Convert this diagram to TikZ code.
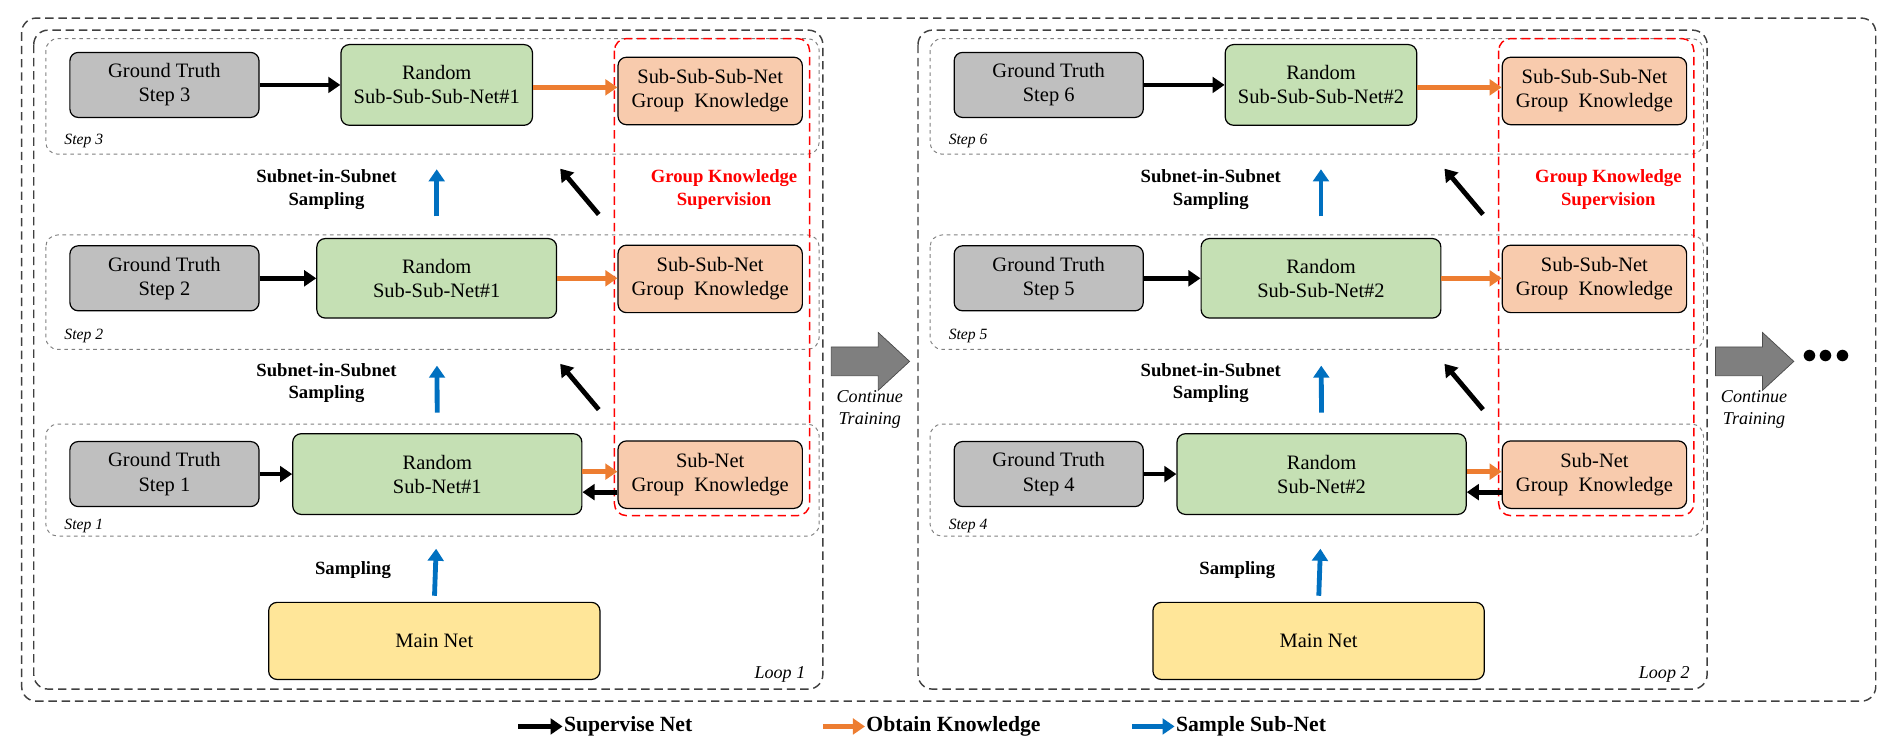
\documentclass[tikz,border=0pt]{standalone}
\usepackage{fontspec}
\setmainfont{Liberation Serif}
\usetikzlibrary{arrows.meta}
\definecolor{gbox}{HTML}{BFBFBF}
\definecolor{grn}{HTML}{C5E0B4}
\definecolor{pch}{HTML}{F8CBAD}
\definecolor{ylw}{HTML}{FFE699}
\definecolor{blu}{HTML}{0070C0}
\definecolor{org}{HTML}{ED7D31}
\definecolor{gry}{HTML}{7F7F7F}
\tikzset{
  box/.style={draw=black, line width=1pt, rounded corners=7pt, align=center, inner sep=0pt,
     font=\fontsize{17}{20}\selectfont},
  gtbox/.style={box, fill=gbox, minimum width=157pt, minimum height=54pt},
  rbox/.style={box, fill=grn},
  kbox/.style={box, fill=pch, minimum width=153pt, minimum height=56pt},
  mbox/.style={box, fill=ylw, minimum width=275pt, minimum height=64pt},
  karr/.style={line width=4pt, -{Triangle[length=10pt,width=13pt]}},
  oarr/.style={line width=4pt, org, -{Triangle[length=10pt,width=13pt]}},
  barr/.style={line width=4pt, blu, -{Triangle[length=10pt,width=13pt]}},
  stepbox/.style={draw=gray, dashed, line width=0.8pt, rounded corners=10pt},
  loopbox/.style={draw=black!75, dashed, dash pattern=on 7pt off 4pt, line width=1.2pt, rounded corners=12pt},
  redbox/.style={draw=red, dash pattern=on 7pt off 4pt, line width=1.2pt, rounded corners=10pt},
  lab/.style={font=\bfseries\fontsize{15.5}{19}\selectfont, align=center},
  ital/.style={font=\itshape\fontsize{13}{15}\selectfont},
  ct/.style={font=\itshape\fontsize{15}{18}\selectfont, align=center},
  leg/.style={font=\bfseries\fontsize{18}{21}\selectfont, anchor=west, inner sep=1pt},
}
\begin{document}
\begin{tikzpicture}[x=1pt,y=-1pt]
\useasboundingbox (0,0) rectangle (1568,622);
\draw[loopbox] (18,15) rectangle (1557,582);
\foreach \o/\n/\a/\b/\c in {0/1/1/2/3, 734/2/4/5/6}{
  \begin{scope}[xshift=\o]
  \draw[loopbox] (28,25) rectangle (683,572);
  \draw[stepbox] (38,32) rectangle (680,128);
  \draw[stepbox] (38,195) rectangle (680,290);
  \draw[stepbox] (38,352) rectangle (680,445);
  \draw[redbox] (510,32) rectangle (672,428);
  \node[ital, anchor=west] (sl3\n) at (50,117) {Step \c};
  \node[ital, anchor=west] (sl2\n) at (50,279) {Step \b};
  \node[ital, anchor=west] (sl1\n) at (50,437) {Step \a};
  \node[ct, anchor=east] (lp\n) at (672,560) {Loop \n};
  \node[gtbox] (gt3\n) at (136.5,70.5) {Ground Truth\\Step \c};
  \node[gtbox] (gt2\n) at (136.5,231) {Ground Truth\\Step \b};
  \node[gtbox] (gt1\n) at (136.5,393.5) {Ground Truth\\Step \a};
  \node[rbox, minimum width=159pt, minimum height=67pt] (r3\n) at (362.5,70.5) {Random\\Sub-Sub-Sub-Net\#\n};
  \node[rbox, minimum width=199pt, minimum height=66pt] (r2\n) at (362.5,231) {Random\\Sub-Sub-Net\#\n};
  \node[rbox, minimum width=240pt, minimum height=67pt] (r1\n) at (363,393.5) {Random\\Sub-Net\#\n};
  \node[kbox] (k3\n) at (589.5,75.5) {Sub-Sub-Sub-Net\\Group\ \ Knowledge};
  \node[kbox] (k2\n) at (589.5,231.5) {Sub-Sub-Net\\Group\ \ Knowledge};
  \node[kbox] (k1\n) at (589.5,394) {Sub-Net\\Group\ \ Knowledge};
  \node[mbox] (mn\n) at (360.5,532) {Main Net};
  \draw[karr] (gt3\n.east) -- (r3\n.west);
  \draw[karr] (gt2\n.east) -- (r2\n.west);
  \draw[karr] (gt1\n.east) -- (r1\n.west);
  \draw[oarr] ([yshift=-2pt]r3\n.east) -- ([yshift=-2pt]r3\n.east -| k3\n.west);
  \draw[oarr] (r2\n.east) -- (r2\n.east -| k2\n.west);
  \draw[oarr] ([yshift=2pt]r1\n.east) -- ([yshift=2pt]r1\n.east -| k1\n.west);
  \draw[karr] ([yshift=-15pt]r1\n.east -| k1\n.west) -- ([yshift=-15pt]r1\n.east);
  \draw[barr, shorten <=5pt, shorten >=28pt] (mn\n.north) -- (r1\n.south);
  \draw[barr, shorten <=17pt, shorten >=39pt] (r1\n.north) -- (r2\n.south);
  \draw[barr, shorten <=18pt, shorten >=36pt] (r2\n.north) -- (r3\n.south);
  \coordinate (d1a\n) at (497,340); \coordinate (d1b\n) at (465,302);
  \coordinate (d2a\n) at (497,178); \coordinate (d2b\n) at (465,140);
  \draw[karr] (d1a\n) -- (d1b\n);
  \draw[karr] (d2a\n) -- (d2b\n);
  \node[lab] (s3\n) at (271,157) {Subnet-in-Subnet\\Sampling};
  \node[lab] (s2\n) at (271,318) {Subnet-in-Subnet\\Sampling};
  \node[lab] (s1\n) at (293,473) {Sampling};
  \node[lab, text=red] (gk\n) at (601,157) {Group Knowledge\\Supervision};
  \draw[fill=gry, draw=black!70, line width=0.6pt] (690,288) -- (729,288) -- (729,276) -- (755,300) -- (729,324) -- (729,312) -- (690,312) -- cycle;
  \node[ct] (ctn\n) at (722,340) {Continue\\Training};
  \end{scope}
}
\node[font=\fontsize{30}{30}\selectfont] (dots) at (1516,296) {$\bullet\!\bullet\!\bullet$};
\coordinate (la1) at (430,603); \coordinate (la2) at (467,603);
\coordinate (lb1) at (683,603); \coordinate (lb2) at (718,603);
\coordinate (lc1) at (940,603); \coordinate (lc2) at (975,603);
\draw[karr] (la1) -- (la2); \node[leg] (l1) at (467,603) {Supervise Net};
\draw[oarr] (lb1) -- (lb2); \node[leg] (l2) at (718,603) {Obtain Knowledge};
\draw[barr] (lc1) -- (lc2); \node[leg] (l3) at (975,603) {Sample Sub-Net};
\end{tikzpicture}
\end{document}
